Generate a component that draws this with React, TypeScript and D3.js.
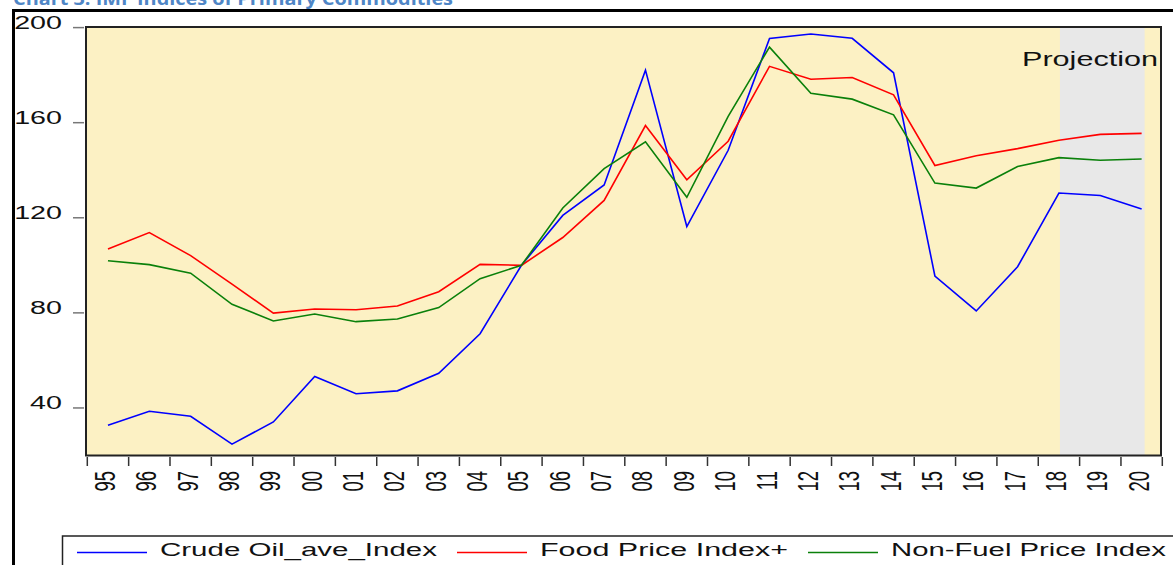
// IMF indices of primary commodities, drawn with D3 into an svg ref
import React, { useEffect, useRef } from 'react';
import * as d3 from 'd3';

// Year labels on the category axis (1995 .. 2020)
const years = ['95', '96', '97', '98', '99', '00', '01', '02', '03', '04', '05', '06', '07',
  '08', '09', '10', '11', '12', '13', '14', '15', '16', '17', '18', '19', '20'];

// Series values, index 2005 = 100
const crudeOil = [32.7, 38.6, 36.5, 24.8, 34.1, 53.2, 46.0, 47.2, 54.6, 71.2, 100.0, 121.0, 133.8,
  182.1, 116.3, 148.4, 195.4, 197.3, 195.5, 181.0, 95.5, 80.8, 99.4, 130.4, 129.4, 123.7];
const foodPrice = [106.9, 113.8, 104.1, 92.1, 79.9, 81.6, 81.3, 82.9, 88.9, 100.4, 100.0, 111.7, 127.3,
  158.8, 136.0, 152.2, 183.7, 178.3, 179.0, 171.7, 142.0, 146.1, 149.1, 152.6, 155.1, 155.5];
const nonFuel = [101.9, 100.3, 96.7, 83.6, 76.6, 79.5, 76.3, 77.4, 82.2, 94.4, 100.0, 124.1, 140.7,
  152.0, 128.6, 162.7, 191.8, 172.4, 169.9, 163.3, 134.6, 132.5, 141.6, 145.3, 144.2, 144.7];

const seriesNames = ['Crude Oil_ave_Index', 'Food Price Index+', 'Non-Fuel Price Index'];
const seriesColors = ['#0000ff', '#ff0000', '#0a800a'];

const yTicks = [40, 80, 120, 160, 200];
const projectionRange = ['18', '20'];
const projectionLabel = 'Projection';
const chartTitle = 'Chart 3: IMF Indices of Primary Commodities';

const W = 1173;
const H = 565;
const FONT = '"Liberation Sans", Arial, sans-serif';
const STRETCH = 1.55; // the original graph is stretched sideways

const App = () => {
  const ref = useRef<SVGSVGElement | null>(null);

  useEffect(() => {
    document.body.style.margin = '0';
    document.body.style.overflow = 'hidden';
    if (!ref.current) return;
    const svg = d3.select(ref.current);
    svg.selectAll('*').remove();

    svg.append('rect').attr('width', W).attr('height', H).attr('fill', '#fff');

    // cut-off title at the very top
    svg.append('text')
      .attr('x', 13).attr('y', 4.5)
      .attr('font-family', '"Open Sans", sans-serif')
      .attr('font-weight', 'bold')
      .attr('font-size', 17)
      .attr('fill', '#4f86c6')
      .attr('textLength', 440)
      .attr('lengthAdjust', 'spacingAndGlyphs')
      .text(chartTitle);

    // outer frame (runs off the page on the right and bottom)
    svg.append('path')
      .attr('d', `M13.5,${H + 5} L13.5,10.5 L${W + 5},10.5`)
      .attr('fill', 'none')
      .attr('stroke', '#000')
      .attr('stroke-width', 3);

    // plot area
    const plot = { left: 86, right: 1161, top: 27, bottom: 455.5 };
    const x = d3.scaleBand<string>().domain(years).range([87.3, 1162.3]);
    const cx = (d: string) => (x(d) as number) + x.bandwidth() / 2;
    const y = d3.scaleLinear().domain([20, 200]).range([455.5, 27.6]);

    svg.append('rect')
      .attr('x', plot.left).attr('y', plot.top)
      .attr('width', plot.right - plot.left).attr('height', plot.bottom - plot.top)
      .attr('fill', '#fcf1c4');

    // projection shading
    svg.append('rect')
      .attr('x', cx(projectionRange[0]) + 1)
      .attr('y', plot.top)
      .attr('width', cx(projectionRange[1]) + 3 - cx(projectionRange[0]) - 1)
      .attr('height', plot.bottom - plot.top)
      .attr('fill', '#e8e8e8');

    svg.append('text')
      .attr('x', 1022).attr('y', 66)
      .attr('font-family', FONT)
      .attr('font-size', 20)
      .attr('fill', '#111')
      .attr('textLength', 136)
      .attr('lengthAdjust', 'spacingAndGlyphs')
      .text(projectionLabel);

    // series lines
    const allSeries = [crudeOil, foodPrice, nonFuel];
    const line = d3.line<number>()
      .x((_, i) => cx(years[i]))
      .y(v => y(v));
    allSeries.forEach((s, i) => {
      svg.append('path')
        .datum(s)
        .attr('d', line)
        .attr('fill', 'none')
        .attr('stroke', seriesColors[i])
        .attr('stroke-width', 1.6)
        .attr('stroke-linejoin', 'miter');
    });

    svg.append('rect')
      .attr('x', plot.left).attr('y', plot.top)
      .attr('width', plot.right - plot.left).attr('height', plot.bottom - plot.top)
      .attr('fill', 'none')
      .attr('stroke', '#222')
      .attr('stroke-width', 2);

    // y axis: detached ticks + stretched labels
    const yAxis = svg.append('g');
    yTicks.forEach(t => {
      yAxis.append('line')
        .attr('x1', 73).attr('x2', 84)
        .attr('y1', y(t)).attr('y2', y(t))
        .attr('stroke', '#777').attr('stroke-width', 1.5);
      yAxis.append('text')
        .attr('transform', `translate(62,${y(t) + 1.5}) scale(${STRETCH},1)`)
        .attr('text-anchor', 'end')
        .attr('font-family', FONT)
        .attr('font-size', 18.5)
        .attr('fill', '#111')
        .text(t);
    });

    // x axis: ticks on band edges, rotated labels at band centres
    const xAxis = svg.append('g');
    const edges = years.map(d => x(d) as number).concat([x.range()[1]]);
    edges.forEach(e => {
      xAxis.append('line')
        .attr('x1', e).attr('x2', e)
        .attr('y1', 457).attr('y2', 466)
        .attr('stroke', '#333').attr('stroke-width', 1.5);
    });
    years.forEach(d => {
      xAxis.append('text')
        .attr('transform', `translate(${cx(d) + 7},471) scale(${STRETCH},1) rotate(-90)`)
        .attr('text-anchor', 'end')
        .attr('font-family', FONT)
        .attr('font-size', 18.5)
        .attr('fill', '#111')
        .text(d);
    });

    // legend box (also runs off the page)
    svg.append('rect')
      .attr('x', 62.5).attr('y', 536)
      .attr('width', W).attr('height', 60)
      .attr('fill', '#fff')
      .attr('stroke', '#222')
      .attr('stroke-width', 1.5);

    const legendTextWidths = [277, 248, 275];
    let lx = 77;
    seriesNames.forEach((name, i) => {
      svg.append('line')
        .attr('x1', lx).attr('x2', lx + 70)
        .attr('y1', 552.5).attr('y2', 552.5)
        .attr('stroke', seriesColors[i]).attr('stroke-width', 1.5);
      svg.append('text')
        .attr('x', lx + 83).attr('y', 555.5)
        .attr('font-family', FONT)
        .attr('font-size', 18)
        .attr('fill', '#111')
        .attr('textLength', legendTextWidths[i])
        .attr('lengthAdjust', 'spacingAndGlyphs')
        .text(name);
      lx += 83 + legendTextWidths[i] + 20;
    });
  }, []);

  return (
    <svg
      ref={ref}
      width={W}
      height={H}
      style={{ position: 'absolute', left: 0, top: 0, display: 'block' }}
    />
  );
};

export default App;
